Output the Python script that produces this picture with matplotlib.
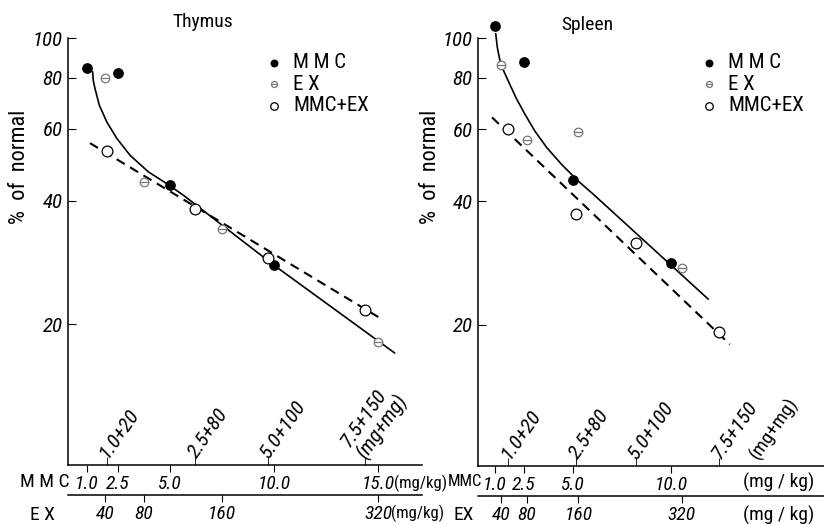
import matplotlib
matplotlib.use('Agg')
import matplotlib.pyplot as plt
from matplotlib import font_manager
from matplotlib.ticker import FixedLocator, NullLocator, NullFormatter
from matplotlib.transforms import blended_transform_factory

installed = {f.name for f in font_manager.fontManager.ttflist}
narrow = [n for n in ('Liberation Sans Narrow', 'Roboto Condensed', 'Open Sans Condensed')
          if n in installed]
plt.rcParams['font.family'] = narrow[:1] + ['DejaVu Sans']
plt.rcParams['font.stretch'] = 'condensed'

# ---- data (x axis = MMC dose scale of each panel, mg/kg) ----
y_ticks = [20, 40, 60, 80, 100]
ex_ticks = [40, 80, 160, 320]
combo_labels = ['1.0+20', '2.5+80', '5.0+100', '7.5+150']

# Thymus
thy_mmc_ticks = [1.0, 2.5, 5.0, 10.0, 15.0]
thy_mmc_dose = [1.0, 2.5, 5.0, 10.0]
thy_mmc_pct = [84.5, 82.0, 43.7, 27.9]
thy_ex_dose = [40, 80, 160, 320]
thy_ex_pct = [79.8, 44.5, 34.1, 18.1]
thy_combo_pos = [1.95, 6.2, 9.7, 14.35]
thy_combo_pct = [53.0, 38.2, 29.0, 21.6]
thy_ex_per_mmc = 320 / 15.0
thy_curve_x = [1.28, 1.31, 1.39, 1.60, 1.96, 2.44, 3.08, 3.96, 4.84, 5.64, 9.97, 15.78]
thy_curve_y = [82.7, 78.9, 75.4, 68.6, 62.4, 56.9, 51.7, 47.1, 44.1, 41.3, 27.9, 17.0]
thy_dash_x = [1.15, 15.0]
thy_dash_y = [55.4, 20.8]

# Spleen
spl_mmc_ticks = [1.0, 2.5, 5.0, 10.0]
spl_mmc_dose = [1.0, 2.5, 5.0, 10.0]
spl_mmc_pct = [107.0, 87.4, 45.0, 28.3]
spl_ex_dose = [40, 80, 160, 320]
spl_ex_pct = [85.9, 56.6, 58.9, 27.5]
spl_combo_pos = [1.7, 5.15, 8.2, 12.45]
spl_combo_pct = [60.0, 37.3, 31.6, 19.2]
spl_ex_per_mmc = 320 / 10.55
spl_curve_x = [1.02, 1.14, 1.31, 1.70, 2.09, 2.55, 3.06, 3.66, 4.42, 5.27, 6.04, 11.89]
spl_curve_y = [106.2, 94.9, 86.4, 78.6, 71.6, 65.2, 59.3, 54.1, 49.2, 44.8, 41.6, 23.1]
spl_dash_x = [0.87, 13.0]
spl_dash_y = [64.1, 17.9]

W, H = 824, 524
fig = plt.figure(figsize=(W / 100, H / 100), dpi=100)
TICK_FS = 14


def px(x, y):
    return x / W, 1 - y / H


def draw_panel(rect, xlim, mmc_ticks, mmc_dose, mmc_pct, ex_dose, ex_pct,
               combo_pos, combo_pct, ratio, cx, cy, dx, dy, split_unit):
    ax = fig.add_axes(rect)
    ax.set_yscale('log')
    ax.set_ylim(9.04, 103)
    ax.set_xlim(*xlim)
    for s in ('top', 'right'):
        ax.spines[s].set_visible(False)
    ax.spines['left'].set_bounds(9.04, 100)
    ax.spines['left'].set_linewidth(1.1)
    ax.spines['bottom'].set_linewidth(1.1)

    ax.yaxis.set_major_locator(FixedLocator(y_ticks))
    ax.yaxis.set_minor_locator(NullLocator())
    ax.set_yticks(y_ticks, labels=[str(v) for v in y_ticks],
                  fontstyle='italic', fontsize=TICK_FS + 1)
    ax.yaxis.set_minor_formatter(NullFormatter())
    ax.tick_params(axis='y', direction='in', length=6, pad=4)

    ax.set_xticks(mmc_ticks, labels=[f'{v:.1f}' for v in mmc_ticks],
                  fontstyle='italic', fontsize=TICK_FS)
    ax.tick_params(axis='x', which='major', direction='out', length=5, pad=2)
    ax.xaxis.set_minor_locator(FixedLocator(combo_pos))
    ax.tick_params(axis='x', which='minor', direction='in', length=6)

    # EX dose axis below
    sec = ax.secondary_xaxis(-30 / 432, functions=(lambda x: x * ratio,
                                                     lambda x: x / ratio))
    sec.set_xticks(ex_ticks, labels=[str(v) for v in ex_ticks],
                   fontstyle='italic', fontsize=TICK_FS)
    sec.tick_params(direction='out', length=5, pad=2)
    sec.spines['bottom'].set_linewidth(1.1)

    # combination dose labels
    trans = blended_transform_factory(ax.transData, ax.transAxes)
    for i, (p, lab) in enumerate(zip(combo_pos, combo_labels)):
        text = lab
        if i == len(combo_labels) - 1 and not split_unit:
            text = lab + '\n(mg+mg)'
        ax.annotate(text, xy=(p, 0), xycoords=trans, xytext=(1, 4),
                    textcoords='offset points', rotation=55,
                    rotation_mode='anchor', ha='left', va='baseline',
                    fontsize=TICK_FS + 1, fontstyle='italic', linespacing=1.0)

    # curves
    ax.plot(cx, cy, color='black', lw=1.2, solid_joinstyle='round', zorder=2)
    ax.plot(dx, dy, color='black', lw=1.5, dashes=(4.5, 3), zorder=2)

    # points
    h1 = ax.scatter(mmc_dose, mmc_pct, s=45, color='black', zorder=4,
                    clip_on=False)
    ex_x = [v / ratio for v in ex_dose]
    h2a = ax.scatter(ex_x, ex_pct, s=38, facecolor='white', edgecolor='#777777',
                     linewidth=0.9, zorder=4)
    h2b = ax.scatter(ex_x, ex_pct, s=38, marker='_', color='#777777',
                     linewidth=0.9, zorder=5)
    h3 = ax.scatter(combo_pos, combo_pct, s=60, facecolor='white',
                    edgecolor='black', linewidth=0.9, zorder=4)
    return ax, sec, (h1, (h2a, h2b), h3)


ax1, sec1, hs1 = draw_panel([68 / W, 59 / H, 354 / W, 432 / H], (0.096, 17.1),
                            thy_mmc_ticks, thy_mmc_dose, thy_mmc_pct, thy_ex_dose,
                            thy_ex_pct, thy_combo_pos, thy_combo_pct, thy_ex_per_mmc,
                            thy_curve_x, thy_curve_y, thy_dash_x, thy_dash_y, False)
ax2, sec2, hs2 = draw_panel([478 / W, 58 / H, 346 / W, 433 / H], (0.153, 17.8),
                            spl_mmc_ticks, spl_mmc_dose, spl_mmc_pct, spl_ex_dose,
                            spl_ex_pct, spl_combo_pos, spl_combo_pct, spl_ex_per_mmc,
                            spl_curve_x, spl_curve_y, spl_dash_x, spl_dash_y, True)

# separate (mg+mg) label for spleen
trans2 = blended_transform_factory(ax2.transData, ax2.transAxes)
ax2.annotate('(mg+mg)', xy=(14.4, 0), xycoords=trans2, xytext=(1, 4),
             textcoords='offset points', rotation=55, rotation_mode='anchor',
             ha='left', va='baseline', fontsize=TICK_FS)

for ax, hs, lx in ((ax1, hs1, 266), (ax2, hs2, 701)):
    ax.legend(list(hs), ['M M C', 'E X', 'MMC+EX'], loc='upper left',
              bbox_to_anchor=px(lx, 53), bbox_transform=fig.transFigure,
              frameon=False, fontsize=15, markerscale=0.7, handlelength=0.8,
              handletextpad=0.5, labelspacing=0.12, borderpad=0,
              borderaxespad=0)

# titles, axis labels
fig.text(*px(203, 22), 'Thymus', ha='center', va='center', fontsize=14)
fig.text(*px(587, 25), 'Spleen', ha='center', va='center', fontsize=14)
for x in (20, 430):
    fig.text(*px(x, 167), '%  of  normal', rotation=90, ha='center',
             va='center', fontsize=16)

fig.text(*px(45, 482), 'M M C', ha='center', va='center', fontsize=14)
fig.text(*px(42, 515), 'E X', ha='center', va='center', fontsize=14)
fig.text(*px(482, 482), 'MMC', ha='right', va='center', fontsize=12)
fig.text(*px(474, 515), 'EX', ha='right', va='center', fontsize=14)
fig.text(*px(779, 482), '(mg / kg)', ha='center', va='center', fontsize=TICK_FS)
fig.text(*px(779, 515), '(mg / kg)', ha='center', va='center', fontsize=TICK_FS)

# thymus units follow the last tick labels directly
fig.canvas.draw()
inv = fig.transFigure.inverted()
for lab in (ax1.get_xticklabels()[-1], sec1.get_xticklabels()[-1]):
    bb = lab.get_window_extent()
    x0, y0 = inv.transform((bb.x1 - 1, (bb.y0 + bb.y1) / 2))
    fig.text(x0, y0, '(mg/kg)', ha='left', va='center', fontsize=12)

fig.savefig('out.png', dpi=100)
